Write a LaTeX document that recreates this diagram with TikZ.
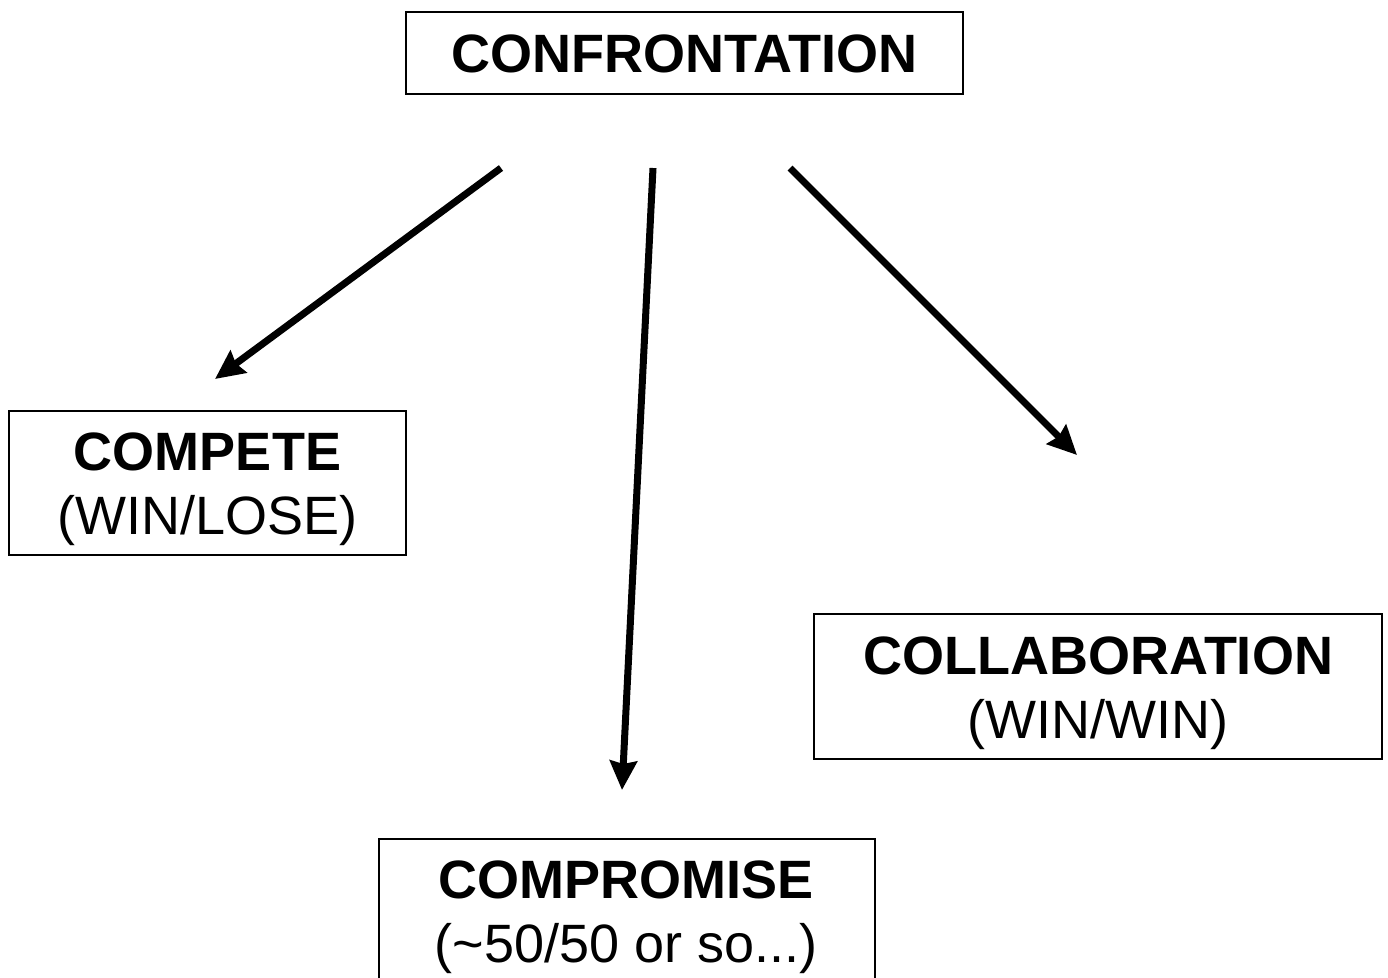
\documentclass[tikz,border=0pt]{standalone}
\usepackage{fontspec}
\setmainfont{Liberation Sans}
\usetikzlibrary{arrows.meta}
\begin{document}
\begin{tikzpicture}[x=1pt,y=-1pt,
  box/.style={draw=black, line width=1.6pt, inner sep=0pt},
  words/.style={align=center, inner sep=0pt, font=\fontsize{54}{64}\selectfont},
  flow/.style={line width=7pt, -{Stealth[length=29pt,width=27pt,inset=3pt]}}]
\useasboundingbox (0,0) rectangle (1388,977);
\clip (0,0) rectangle (1388,977);

% frames
\node[box, minimum width=557pt, minimum height=82pt] (confront) at (684.5,53) {};
\node[box, minimum width=397pt, minimum height=144pt] (compete) at (207.5,483) {};
\node[box, minimum width=568pt, minimum height=145pt] (collab) at (1098,686.5) {};
\node[box, minimum width=496pt, minimum height=180pt, anchor=north west] (compromise) at (378,838) {};

% captions
\node[words] (confronttext) at (684.5,54) {\textbf{CONFRONTATION}};
\node[words] (competetext) at (207.5,489) {\textbf{COMPETE}\\(WIN/LOSE)};
\node[words] (collabtext) at (1098,693) {\textbf{COLLABORATION}\\(WIN/WIN)};
\node[words] (comprotext) at (626,917) {\textbf{COMPROMISE}\\(\char`~50/50 or so...)};

% arrow ends
\coordinate (s1) at (501,168);
\coordinate (t1) at (215,379);
\coordinate (s2) at (653,168);
\coordinate (t2) at (622,790);
\coordinate (s3) at (790,168);
\coordinate (t3) at (1077,455);

\draw[flow] (s1) -- (t1);
\draw[flow] (s2) -- (t2);
\draw[flow] (s3) -- (t3);
\end{tikzpicture}
\end{document}
